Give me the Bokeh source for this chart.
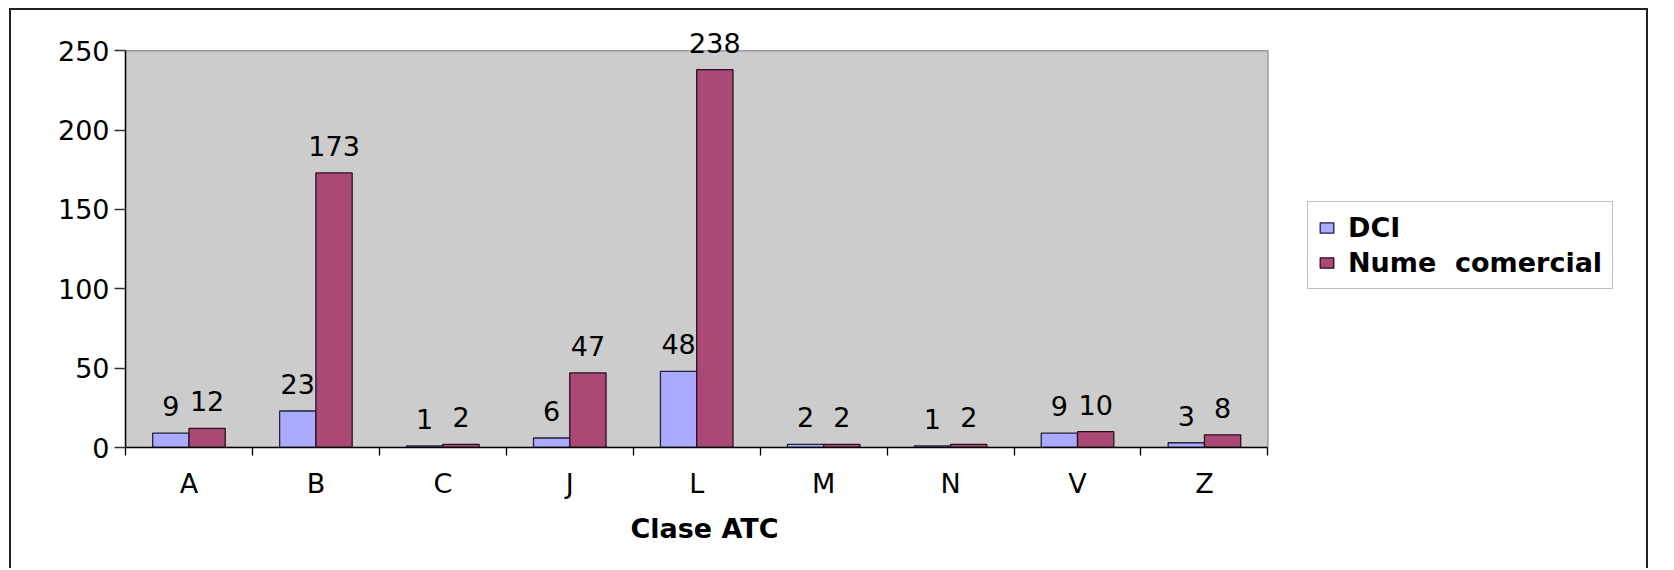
from bokeh.plotting import figure
from bokeh.models import ColumnDataSource, FixedTicker, Legend, LegendItem, Range1d, Title
from bokeh.core.properties import value
from bokeh.embed import file_html
from bokeh.resources import INLINE
import numpy as np

categories = ["A", "B", "C", "J", "L", "M", "N", "V", "Z"]
dci = [9, 23, 1, 6, 48, 2, 1, 9, 3]
nume = [12, 173, 2, 47, 238, 2, 2, 10, 8]
y_ticks = [0, 50, 100, 150, 200, 250]
series_names = ["DCI", "Nume  comercial"]
x_title = "Clase  ATC"

FONT = value("DejaVu Sans")
n = len(categories)
idx = np.arange(n)
bar_w = 1 / 3.5
x_dci = idx + 0.5 - bar_w / 2
x_num = idx + 0.5 + bar_w / 2
y_max = y_ticks[-1]

W, H = 1666, 568
p = figure(width=W, height=H, output_backend="svg", toolbar_location=None,
           x_range=Range1d(0, 12.14), y_range=Range1d(0, 269),
           min_border_left=125, min_border_right=0, min_border_top=20, min_border_bottom=121)
p.background_fill_color = None
p.border_fill_color = None
p.outline_line_color = None
p.xgrid.visible = False
p.ygrid.visible = False
line = "linear-gradient(#222222,#222222)"
p.styles = {"background": f"{line} 9px 8px / 2px 100% no-repeat, "
                          f"{line} 9px 8px / 1639px 2px no-repeat, "
                          f"{line} 1646px 8px / 2px 100% no-repeat"}

# plot area (gray wall) spanning the category/value extent
p.quad(left=[0], right=[n], bottom=[0], top=[y_max],
       fill_color="#cccccc", line_color="#9a9a9a", line_width=1.5)

src_d = ColumnDataSource(dict(x=x_dci, top=dci, label=[str(v) for v in dci]))
src_n = ColumnDataSource(dict(x=x_num, top=nume, label=[str(v) for v in nume]))

r1 = p.vbar(x="x", top="top", bottom=0, width=bar_w, source=src_d,
            fill_color="#aaaaff", line_color="#20203a", line_width=1.3)
r2 = p.vbar(x="x", top="top", bottom=0, width=bar_w, source=src_n,
            fill_color="#aa4876", line_color="#2a0f1e", line_width=1.3)

for s in (src_d, src_n):
    p.text(x="x", y="top", text="label", source=s, text_align="center",
           text_baseline="bottom", y_offset=-17, text_font=FONT,
           text_font_size="27px", text_color="black")

xa = p.xaxis[0]
xa.ticker = FixedTicker(ticks=[float(i + 0.5) for i in idx],
                        minor_ticks=[float(i) for i in range(n + 1)])
xa.major_label_overrides = {float(i + 0.5): c for i, c in zip(idx, categories)}
xa.bounds = (0, n)
xa.major_tick_line_color = None
xa.major_tick_out = 0
xa.major_tick_in = 0
xa.minor_tick_line_color = "black"
xa.minor_tick_line_width = 1.3
xa.minor_tick_out = 8
xa.minor_tick_in = 0
xa.axis_line_color = "black"
xa.axis_line_width = 1.5
xa.major_label_standoff = 12
xa.major_label_text_font = "DejaVu Sans"
xa.major_label_text_font_size = "27px"
xa.major_label_text_color = "black"

ya = p.yaxis[0]
ya.ticker = FixedTicker(ticks=y_ticks)
ya.bounds = (0, y_max)
ya.minor_tick_line_color = None
ya.major_tick_out = 11
ya.major_tick_in = 0
ya.major_tick_line_color = "#333333"
ya.major_tick_line_width = 1.3
ya.axis_line_color = "black"
ya.axis_line_width = 1.5
ya.major_label_standoff = 5
ya.major_label_text_font = "DejaVu Sans"
ya.major_label_text_font_size = "27px"
ya.major_label_text_color = "black"

title = Title(text=x_title, align="left", offset=505, standoff=19,
              text_font="DejaVu Sans", text_font_style="bold",
              text_font_size="27px", text_color="black")
p.add_layout(title, "below")

legend = Legend(items=[LegendItem(label=series_names[0], renderers=[r1]),
                       LegendItem(label=series_names[1], renderers=[r2])],
                location=(1182, 158))
legend.label_text_font = "DejaVu Sans"
legend.label_text_font_style = "bold"
legend.label_text_font_size = "27px"
legend.label_text_color = "black"
legend.glyph_width = 17
legend.glyph_height = 13
legend.label_standoff = 13
legend.padding = 10
legend.spacing = 4
legend.margin = 0
legend.border_line_color = "#808080"
legend.border_line_width = 1.5
legend.background_fill_color = "white"
legend.background_fill_alpha = 1
p.add_layout(legend)

open("out.html", "w").write(file_html(p, INLINE))
